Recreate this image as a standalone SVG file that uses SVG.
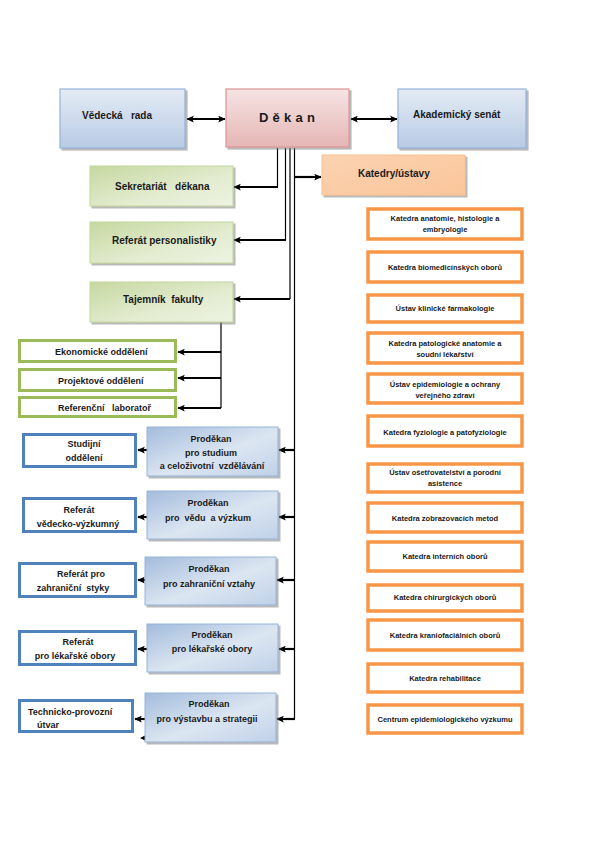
<svg xmlns="http://www.w3.org/2000/svg" width="595" height="842" viewBox="0 0 595 842">
<defs>
<linearGradient id="gBlue" x1="0" y1="0" x2="0" y2="1"><stop offset="0" stop-color="#e4ebf5"/><stop offset="1" stop-color="#b7cbe4"/></linearGradient>
<linearGradient id="gPink" x1="0" y1="0" x2="0" y2="1"><stop offset="0" stop-color="#f6e4e3"/><stop offset="1" stop-color="#e5b6b5"/></linearGradient>
<linearGradient id="gOrange" x1="0" y1="0" x2="1" y2="1"><stop offset="0" stop-color="#fbd3b1"/><stop offset="1" stop-color="#fac59a"/></linearGradient>
<linearGradient id="gGreen" x1="0" y1="0" x2="1" y2="1"><stop offset="0" stop-color="#c6d8a0"/><stop offset="0.6" stop-color="#e3ecd0"/><stop offset="1" stop-color="#edf3e2"/></linearGradient>
<linearGradient id="gProd" x1="0" y1="0" x2="1" y2="1"><stop offset="0" stop-color="#a3bcdc"/><stop offset="0.55" stop-color="#dce6f2"/><stop offset="1" stop-color="#bfd1e8"/></linearGradient>
<filter id="sh" x="-10%" y="-10%" width="130%" height="140%"><feDropShadow dx="2" dy="2" stdDeviation="0.6" flood-color="#7f7f7f" flood-opacity="0.55"/></filter>
<marker id="ah" viewBox="0 0 10 10" refX="9" refY="5" markerWidth="7.5" markerHeight="7.5" markerUnits="userSpaceOnUse" orient="auto-start-reverse"><path d="M0,0.5 L10,5 L0,9.5 L2,5 Z" fill="#000"/></marker>
<style>
.t{font-family:"Liberation Sans",Arial,sans-serif;font-weight:bold;fill:#1a1a1a}
.m{font-size:10px}
.s{font-size:9px}
.o{font-size:7.5px;text-anchor:middle}
.c{text-anchor:middle}
.gb{fill:url(#gBlue);stroke:#95b3d7;stroke-width:1.2;filter:url(#sh)}
.gp{fill:url(#gPink);stroke:#d99694;stroke-width:1.2;filter:url(#sh)}
.go{fill:url(#gOrange);stroke:#fac090;stroke-width:1;filter:url(#sh)}
.gg{fill:url(#gGreen);stroke:#c3d69b;stroke-width:1;filter:url(#sh)}
.pd{fill:url(#gProd);stroke:#95b3d7;stroke-width:1;filter:url(#sh)}
.ob{fill:#fff;stroke:#f79646;stroke-width:3.5}
.lg{fill:#fff;stroke:#9bbb59;stroke-width:3}
.lb{fill:#fff;stroke:#4f81bd;stroke-width:3}
.v{fill:none;stroke:#000;stroke-width:1.2}
.a{fill:none;stroke:#000;stroke-width:2.2}
</style>
</defs>
<rect width="595" height="842" fill="#fff"/>

<g id="connectors">
<line class="a" x1="187" y1="119" x2="225" y2="119" marker-start="url(#ah)" marker-end="url(#ah)"/>
<line class="a" x1="351" y1="119" x2="397" y2="119" marker-start="url(#ah)" marker-end="url(#ah)"/>
<line class="v" x1="277.5" y1="148" x2="277.5" y2="187"/>
<line class="v" x1="285.5" y1="148" x2="285.5" y2="240"/>
<line class="v" x1="290" y1="148" x2="290" y2="299"/>
<line class="v" x1="294.5" y1="148" x2="294.5" y2="719"/>
<line class="a" x1="278" y1="187" x2="234" y2="187" marker-end="url(#ah)"/>
<line class="a" x1="294" y1="177" x2="321" y2="177" marker-end="url(#ah)"/>
<line class="a" x1="286" y1="240" x2="234" y2="240" marker-end="url(#ah)"/>
<line class="a" x1="290" y1="299" x2="234" y2="299" marker-end="url(#ah)"/>
<line class="v" x1="221" y1="322" x2="221" y2="408"/>
<line class="a" x1="221" y1="352" x2="178" y2="352" marker-end="url(#ah)"/>
<line class="a" x1="221" y1="378" x2="178" y2="378" marker-end="url(#ah)"/>
<line class="a" x1="221" y1="408" x2="178" y2="408" marker-end="url(#ah)"/>
<line class="a" x1="295" y1="450" x2="279" y2="450" marker-end="url(#ah)"/>
<line class="a" x1="295" y1="517" x2="279" y2="517" marker-end="url(#ah)"/>
<line class="a" x1="295" y1="580" x2="277" y2="580" marker-end="url(#ah)"/>
<line class="a" x1="295" y1="649" x2="279" y2="649" marker-end="url(#ah)"/>
<line class="a" x1="295" y1="719" x2="277" y2="719" marker-end="url(#ah)"/>
<line class="a" x1="147" y1="450" x2="138" y2="450" marker-end="url(#ah)"/>
<line class="a" x1="147" y1="517" x2="138" y2="517" marker-end="url(#ah)"/>
<line class="a" x1="145" y1="580" x2="138" y2="580" marker-end="url(#ah)"/>
<line class="a" x1="147" y1="649" x2="138" y2="649" marker-end="url(#ah)"/>
<line class="a" x1="145" y1="719" x2="135" y2="719" marker-end="url(#ah)"/>
<path d="M146,735 L140,738 L146,741 Z" fill="#000"/>
</g>

<g id="vedecka-rada"><rect class="gb" x="60" y="89" width="125" height="59"/><text class="t m" x="82" y="119" xml:space="preserve">Vědecká   rada</text></g>
<g id="dekan"><rect class="gp" x="226" y="89" width="123" height="58"/><text class="t" x="259" y="122" font-size="13" letter-spacing="4.2">Děkan</text></g>
<g id="akademicky-senat"><rect class="gb" x="398" y="89" width="128" height="59"/><text class="t m" x="413" y="118">Akademický senát</text></g>
<g id="katedry-ustavy"><rect class="go" x="322" y="155" width="143" height="40"/><text class="t m" x="358" y="177">Katedry/ústavy</text></g>

<g id="sekretariat"><rect class="gg" x="90" y="166" width="143" height="40"/><text class="t m" x="115" y="190" xml:space="preserve">Sekretariát   děkana</text></g>
<g id="personalistika"><rect class="gg" x="90" y="222" width="143" height="41"/><text class="t m" x="112" y="244">Referát personalistiky</text></g>
<g id="tajemnik"><rect class="gg" x="90" y="282" width="143" height="40"/><text class="t m" x="123" y="303" xml:space="preserve">Tajemník  fakulty</text></g>

<g id="ekonomicke"><rect class="lg" x="19.5" y="340.5" width="156" height="21"/><text class="t s" x="55" y="355">Ekonomické oddělení</text></g>
<g id="projektove"><rect class="lg" x="19.5" y="369.5" width="156" height="21"/><text class="t s" x="58" y="384">Projektové oddělení</text></g>
<g id="referencni"><rect class="lg" x="19.5" y="397.5" width="156" height="19"/><text class="t s" x="58" y="411" xml:space="preserve">Referenční   laboratoř</text></g>

<g id="prodekan-studium"><rect class="pd" x="147" y="427" width="131" height="49"/><text class="t s c" x="211" y="442">Proděkan</text><text class="t s c" x="211" y="456">pro studium</text><text class="t s c" x="212" y="469" xml:space="preserve">a celoživotní  vzdělávání</text></g>
<g id="prodekan-veda"><rect class="pd" x="147" y="491" width="131" height="48"/><text class="t s c" x="208" y="506">Proděkan</text><text class="t s c" x="208" y="521" xml:space="preserve">pro  vědu  a výzkum</text></g>
<g id="prodekan-zahranici"><rect class="pd" x="145" y="557" width="131" height="48"/><text class="t s c" x="209" y="572">Proděkan</text><text class="t s c" x="209" y="587">pro zahraniční vztahy</text></g>
<g id="prodekan-lekarske"><rect class="pd" x="147" y="624" width="131" height="48"/><text class="t s c" x="212" y="638">Proděkan</text><text class="t s c" x="212" y="652">pro lékařské obory</text></g>
<g id="prodekan-vystavba"><rect class="pd" x="145" y="693" width="131" height="49"/><text class="t s c" x="209" y="707">Proděkan</text><text class="t s c" x="207" y="722">pro výstavbu a strategii</text></g>

<g id="studijni"><rect class="lb" x="23.5" y="434.5" width="112" height="32"/><text class="t s c" x="84" y="447">Studijní</text><text class="t s c" x="84" y="461">oddělení</text></g>
<g id="referat-vv"><rect class="lb" x="23.5" y="498.5" width="112" height="33"/><text class="t s c" x="79" y="513">Referát</text><text class="t s c" x="78" y="527">vědecko-výzkumný</text></g>
<g id="referat-zahr"><rect class="lb" x="19.5" y="563.5" width="116" height="33"/><text class="t s c" x="81" y="577">Referát pro</text><text class="t s c" x="73" y="591" xml:space="preserve">zahraniční  styky</text></g>
<g id="referat-lek"><rect class="lb" x="19.5" y="631.5" width="116" height="33"/><text class="t s c" x="78" y="645">Referát</text><text class="t s c" x="75" y="659">pro lékařské obory</text></g>
<g id="technicko"><rect class="lb" x="19.5" y="700.5" width="113" height="31"/><text class="t s" x="28" y="715">Technicko-provozní</text><text class="t s" x="37" y="728">útvar</text></g>

<g id="k1"><rect class="ob" x="368" y="209" width="154" height="30"/><text class="t o" x="445" y="221">Katedra anatomie, histologie a</text><text class="t o" x="445" y="232">embryologie</text></g>
<g id="k2"><rect class="ob" x="368" y="252" width="154" height="30"/><text class="t o" x="445" y="270">Katedra biomedicínských oborů</text></g>
<g id="k3"><rect class="ob" x="368" y="295" width="154" height="27"/><text class="t o" x="445" y="311">Ústav klinické farmakologie</text></g>
<g id="k4"><rect class="ob" x="368" y="333" width="154" height="30"/><text class="t o" x="445" y="346">Katedra patologické anatomie a</text><text class="t o" x="445" y="357">soudní lékařství</text></g>
<g id="k5"><rect class="ob" x="368" y="374" width="154" height="29"/><text class="t o" x="445" y="387">Ústav epidemiologie a ochrany</text><text class="t o" x="445" y="398">veřejného zdraví</text></g>
<g id="k6"><rect class="ob" x="368" y="416" width="154" height="30"/><text class="t o" x="445" y="435">Katedra fyziologie a patofyziologie</text></g>
<g id="k7"><rect class="ob" x="368" y="464" width="154" height="28"/><text class="t o" x="445" y="475">Ústav ošetřovatelství a porodní</text><text class="t o" x="445" y="486">asistence</text></g>
<g id="k8"><rect class="ob" x="368" y="503" width="154" height="29"/><text class="t o" x="445" y="521">Katedra zobrazovacích metod</text></g>
<g id="k9"><rect class="ob" x="368" y="542" width="154" height="29"/><text class="t o" x="445" y="559">Katedra interních oborů</text></g>
<g id="k10"><rect class="ob" x="368" y="585" width="154" height="26"/><text class="t o" x="445" y="600">Katedra chirurgických oborů</text></g>
<g id="k11"><rect class="ob" x="368" y="620" width="154" height="30"/><text class="t o" x="445" y="638">Katedra kraniofaciálních oborů</text></g>
<g id="k12"><rect class="ob" x="368" y="664" width="154" height="28"/><text class="t o" x="445" y="681">Katedra rehabilitace</text></g>
<g id="k13"><rect class="ob" x="368" y="705" width="154" height="28"/><text class="t o" x="445" y="722">Centrum epidemiologického výzkumu</text></g>
</svg>
